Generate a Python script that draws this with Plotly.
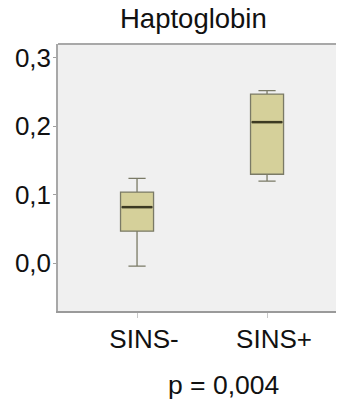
import plotly.graph_objects as go

categories = ["SINS-", "SINS+"]
lower_whisker = [-0.004, 0.120]
q1_values = [0.047, 0.130]
median_values = [0.082, 0.206]
q3_values = [0.104, 0.247]
upper_whisker = [0.124, 0.252]
y_tick_values = [0.0, 0.1, 0.2, 0.3]
y_tick_labels = ["0,0", "0,1", "0,2", "0,3"]
title_text = "Haptoglobin"
p_text = "p = 0,004"

FONT = "Liberation Sans, Arial, sans-serif"
BOX_W = 0.254
xpos = list(range(len(categories)))

fig = go.Figure()
fig.add_trace(go.Box(
    x=xpos, q1=q1_values, median=median_values, q3=q3_values,
    lowerfence=lower_whisker, upperfence=upper_whisker,
    width=BOX_W, whiskerwidth=0.52,
    fillcolor="#D5D09A", line=dict(color="#7a7a66", width=1.3),
    boxpoints=False, hoverinfo="skip", showlegend=False,
))
for xi, m in zip(xpos, median_values):
    fig.add_trace(go.Scatter(
        x=[xi - BOX_W / 2 + 0.01, xi + BOX_W / 2 - 0.01], y=[m, m],
        mode="lines", line=dict(color="#3c3a22", width=2.5),
        hoverinfo="skip", showlegend=False,
    ))

fig.update_layout(
    width=336, height=391,
    margin=dict(l=50, r=0, t=36, b=88, autoexpand=False),
    paper_bgcolor="white", plot_bgcolor="#F0F0F0",
    font=dict(family=FONT, size=26, color="#111111"),
    showlegend=False,
    xaxis=dict(
        range=[-0.608, 1.592], tickvals=xpos, ticktext=categories,
        showgrid=False, zeroline=False, showline=True, linecolor="#9a9a9a", linewidth=2,
        ticks="outside", ticklen=5, tickcolor="#c8c8c8", tickwidth=1,
        ticklabelshift=7, ticklabelstandoff=-1,
        tickfont=dict(family=FONT, size=26, color="#111111"),
        automargin=False,
    ),
    yaxis=dict(
        range=[-0.0695, 0.32], tickvals=y_tick_values, ticktext=y_tick_labels,
        showgrid=False, zeroline=False, showline=True, linecolor="#a8a8a8", linewidth=1.5,
        ticks="outside", ticklen=3, tickcolor="#a0a0a0", tickwidth=1,
        ticklabelstandoff=-3,
        tickfont=dict(family=FONT, size=26, color="#111111"),
        automargin=False,
    ),
    shapes=[dict(type="line", xref="paper", yref="paper", x0=0, x1=1, y0=1, y1=1,
                 line=dict(color="#a8a8a8", width=2))],
    annotations=[
        dict(text=title_text, xref="paper", yref="paper", x=(193 - 58) / 286, y=1,
             yshift=8, xanchor="center", yanchor="bottom", showarrow=False,
             font=dict(family=FONT, size=27.5, color="#111111")),
        dict(text=p_text, xref="paper", yref="paper", x=(223.5 - 58) / 286, y=0,
             yshift=-57, xanchor="center", yanchor="top", showarrow=False,
             font=dict(family=FONT, size=26.5, color="#111111")),
    ],
)

fig.write_html("out.html")
